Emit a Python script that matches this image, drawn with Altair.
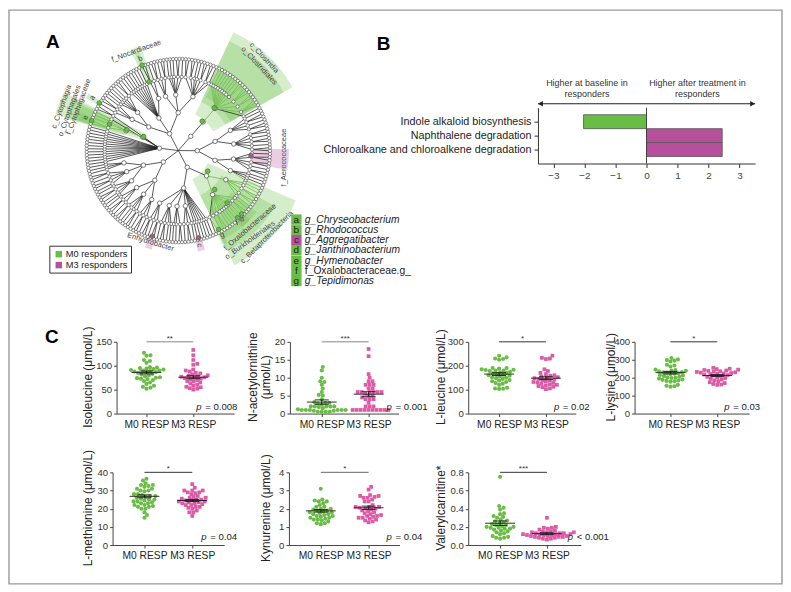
import math
import altair as alt
import pandas as pd

FONT = "Liberation Sans"
GREEN = "#69bd45"
MAGENTA = "#b84f9c"
PINK = "#dc5aa6"
DARK = "#333333"

# ---------- panel C values ----------
iso_m0 = [127,122,121,112,110,106,97,96,95,94,93,92,91,90,90,89,88,87,86,85,83,82,80,78,76,75,74,73,72,70,68,65,62,58,56,54,52]
iso_m3 = [133,122,112,104,102,92,90,88,85,84,82,80,79,78,77,76,75,74,73,72,70,68,67,65,63,60,58,56,55,53,52,50]
nac_m0 = [13,12,10,9,8.8,8,7,6,5.2,5,4,3.2,3,3,2.8,2.5,2,2,2,2,2,1.8,1.5,1.2,1,1,1,1,1,1,0.8,0.8,0.5,0.5,0.5,0.5]
nac_m3 = [18,16,11,10,9,9,8,8,8,7,7,6,6,6,6,6,6,5.5,5,5,4.5,4,4,4,3,2,2,2,1,1,1,1,1,1,1,1,1,1]
leu_m0 = [242,235,230,228,225,190,190,188,185,183,182,180,180,178,175,172,170,168,165,162,160,158,155,152,150,148,145,140,138,135,132,128,125,120,108,105,104,103]
leu_m3 = [242,233,230,228,185,178,170,165,160,158,155,152,150,148,145,143,140,138,135,132,130,128,125,122,120,118,115,112,110,105,102]
lys_m0 = [310,302,298,295,290,272,268,262,245,242,240,238,235,232,230,228,225,222,220,215,212,210,205,202,200,198,195,190,188,185,182,180,178,160,155,152,150]
lys_m3 = [255,250,248,245,243,240,238,236,234,232,230,228,226,224,222,220,218,215,212,210,205,200,198,195,190,185,180,175,170,165,162,160]
met_m0 = [36.5,35.5,34,33,33,32.5,32,31,31,30,30,29.5,28,28,27.5,27,27,26.5,26,25.5,25,25,24.5,24,24,23.5,23,23,22,22,21.5,21,21,20,20,18,16.5,15]
met_m3 = [33.5,31.5,30,30,30,29,29,28.5,28,27,26.5,26,26,25.5,25,25,24.5,24.5,24,24,23.5,23.5,23,23,22.5,22,22,21,21,20.5,20,19,18,18,16]
kyn_m0 = [3.1,2.5,2.45,2.4,2.4,2.3,2.2,2.1,2.1,2.0,2.0,1.95,1.9,1.9,1.85,1.8,1.8,1.75,1.7,1.7,1.65,1.6,1.6,1.55,1.5,1.5,1.45,1.4,1.4,1.35,1.3,1.2,1.2,1.15]
kyn_m3 = [3.2,3.05,2.75,2.7,2.7,2.65,2.6,2.6,2.5,2.4,2.4,2.2,2.1,2.1,2.1,2.05,2.0,2.0,1.95,1.9,1.85,1.8,1.75,1.7,1.65,1.6,1.6,1.55,1.5,1.5,1.45,1.4,1.35,1.3,1.25]
val_m0 = [0.75,0.43,0.41,0.39,0.35,0.34,0.32,0.31,0.3,0.28,0.27,0.26,0.25,0.24,0.23,0.22,0.22,0.21,0.2,0.2,0.19,0.19,0.18,0.18,0.17,0.16,0.15,0.14,0.13,0.12,0.1,0.09,0.08,0.08,0.07]
val_m3 = [0.3,0.2,0.19,0.19,0.18,0.17,0.16,0.15,0.15,0.14,0.14,0.14,0.13,0.13,0.13,0.12,0.12,0.12,0.12,0.11,0.11,0.11,0.1,0.1,0.1,0.09,0.09,0.09,0.08,0.08,0.07,0.07,0.06]

# page x of the column edges of the layout grid
COL_L = {1: 113, 3: 290, 5: 470, 7: 637}
COL_R = {1: 235, 3: 401, 5: 583, 7: 752}

panels = [
    dict(col=1, title="Isoleucine (μmol/L)", m0=iso_m0, m3=iso_m3, ymax=150, ticks=[0,50,100,150], mean=(86,3,76,3), stars="**", p="= 0.008", left=117, right=235, t1=147, t2=194, top=342, h=72, px=197, tx=88, barc="#888888"),
    dict(col=3, title=["N-acetylornithine", "(μmol/L)"], m0=nac_m0, m3=nac_m3, ymax=20, ticks=[0,5,10,15,20], mean=(3.2,0.6,5.4,0.7), stars="***", p="= 0.001", left=291, right=400, t1=323, t2=370, top=342, h=72, px=388, tx=253, barc="#888888"),
    dict(col=5, title="L-leucine  (μmol/L)", m0=leu_m0, m3=leu_m3, ymax=300, ticks=[0,100,200,300], mean=(165,6,148,6), stars="*", p="= 0.02", left=470, right=578, t1=501, t2=548, top=342, h=72, px=556, tx=442, barc=DARK),
    dict(col=7, title="L-lysine (μmol/L)", m0=lys_m0, m3=lys_m3, ymax=400, ticks=[0,100,200,300,400], mean=(228,7,212,5), stars="*", p="= 0.03", left=637, right=752, t1=673, t2=720, top=342, h=72, px=727, tx=613, barc=DARK),
    dict(col=1, title="L-methionine (μmol/L)", m0=met_m0, m3=met_m3, ymax=40, ticks=[0,10,20,30,40], mean=(26.8,0.8,24.5,0.6), stars="*", p="= 0.04", left=113, right=225, t1=145, t2=193, top=473, h=73, px=202, tx=88, barc=DARK),
    dict(col=3, title="Kynurenine (μmol/L)", m0=kyn_m0, m3=kyn_m3, ymax=4, ticks=[0,1,2,3,4], mean=(1.88,0.07,2.05,0.09), stars="*", p="= 0.04", left=290, right=401, t1=322, t2=370, top=473, h=73, px=388, tx=267, barc="#666666"),
    dict(col=5, title="Valerylcarnitine*", m0=val_m0, m3=val_m3, ymax=0.8, ticks=[0,0.2,0.4,0.6,0.8], mean=(0.24,0.025,0.125,0.01), stars="***", p="< 0.001", left=470, right=583, t1=502, t2=549, top=473, h=73, px=570, tx=442, barc=DARK),
]

# ---------- panel B values ----------
pathways = ["Indole alkaloid biosynthesis", "Naphthalene degradation", "Chloroalkane and chloroalkene degradation"]
lda = [-2.03, 2.44, 2.44]
bar_group = ["g", "m", "m"]

# ---------- panel A: taxonomic tree (leaves = genera per family) ----------
tree = (0, [
    (19, [
        (38, [(56, [1, 2, 1]), (56, [1, 1, 1, 1, 2])]),
        (38, [1, 1, 1, 1, 1, 1, 1, 1, (56, [2, 1])]),
        (38, [(56, [2, 1, 2]), (56, [1, 1, 1, 2, 1]), (56, [2, 2, 1, 1, 2, 2, 1])]),
    ]),
    (19, [(38, [(56, [1, 1, 1, 1, 1, 1, 1, 1, 2, 3, 2, 3, 1])])]),
    (19, [
        (38, [(56, [1, 2, 1, 2]), (56, [2, 1, 2, 1, 2])]),
        (38, [(56, [1, 2, 2, 1, 2]), (56, [1, 1, 1, 1])]),
    ]),
    (19, [
        (38, [(56, [1, 1, 2, 2, 1]), (56, [1, 2, 1, 1, 1, 1, 1, 1, 2, 1, 2])]),
        (38, [1, 1, 1, 1, 1, 1, (56, [1, 2, 1]), (56, [2, 1, 1]), (56, [1, 1, 2, 1]), (56, [2, 1, 2])]),
    ]),
    (19, [
        (38, [(56, [1, 2, 1]), (56, [2, 1, 1, 2]), (56, [1, 2, 1])]),
        (38, [(56, [1, 1, 2, 1]), (56, [1, 2, 1, 2]), (56, [1, 1, 1])]),
    ]),
    (19, [1, 1, 1, 1, 1, 1, 1, 1, 1, 1, 1, 1, 1, (38, [(56, [2, 1, 1])]), 1, 2]),
])
LEAF_R = 92
FAM_R = 74
START = 300

# sector: start deg, end deg, inner r, outer r, group
sectors = [
    (25, 61, 40, 131, "g"), (25, 61, 54, 121, "g"), (27, 61, 60, 90, "g"),
    (113, 154, 32, 128, "g"), (120, 154, 50, 112, "g"), (128, 152, 68, 100, "g"),
    (134, 137, 88, 100, "g"), (137, 140, 88, 100, "g"), (152, 155, 88, 105, "g"),
    (334.5, 340, 75, 112, "g"), (336, 338, 93, 107, "g"),
    (286.5, 297, 37, 129, "g"), (286, 296, 56, 119, "g"), (286, 295, 74, 110, "g"), (287, 291, 92, 105, "g"),
    (299.5, 302.5, 92, 107, "g"),
    (89, 100, 73, 111, "m"), (195, 199, 90, 103, "m"), (165, 169, 90, 103, "m"),
]
# highlighted nodes: angle, radius, group
hi_nodes = [
    (39, 38, "g"), (40, 56, "g"), (337, 75, "g"), (337, 93, "g"),
    (292, 37.5, "g"), (292, 55.7, "g"), (291, 74, "g"), (289, 92, "g"), (301, 92.6, "g"),
    (125, 36, "g"), (137, 53.5, "g"), (137, 72, "g"), (138.6, 90, "g"), (135, 90, "g"), (153, 89, "g"),
    (94, 73, "m"), (197, 90, "m"), (167, 90, "m"),
]
# label, page x, page y, rotation, size
tax_labels = [
    ("f_Nocardiaceae", 137, 50, 340, 7.5), ("b", 141, 58, 338, 7),
    ("c_Cytophagia", 62, 106, 290, 7.5), ("o_Cytophagales", 70, 110, 290, 7.5), ("f_Cytophagaceae", 79, 106, 290, 7.5),
    ("a", 93, 97, 300, 7), ("e", 86, 117, 290, 7),
    ("c_Clostridia", 265, 57, 47, 7.5), ("o_Clostridiales", 260, 65, 47, 7.5),
    ("f_Aerococcaceae", 285, 157, 270, 7.5),
    ("Enhydrobacter", 151, 242, 17, 7.5), ("c", 200, 245, 80, 7),
    ("f_Oxalobacteraceae", 251, 227, 319, 7.5), ("o_Burkholderiales", 251, 240, 324, 7.5), ("c_Betaproteobacteria", 268, 237, 315, 7.5),
    ("g", 223, 235, 340, 7), ("d", 243, 219, 340, 7), ("f", 238, 223, 340, 7),
]
key_letters = ["a", "b", "c", "d", "e", "f", "g"]
key_taxa = ["g_Chryseobacterium", "g_Rhodococcus", "g_Aggregatibacter", "g_Janthinobacterium", "g_Hymenobacter", "f_Oxalobacteraceae.g_", "g_Tepidimonas"]
key_groups = ["g", "g", "m", "g", "g", "g", "g"]
key_style = ["italic", "italic", "italic", "italic", "italic", "normal", "italic"]
key_y = [219.3, 230, 240, 250, 260.7, 270.7, 281]

# ---------- geometry helpers ----------
CX, CY = 179, 150
A_W, A_H = 340, 334
A_COL = COL_L[1] - 8
ORX, ORY = CX - 8, CY - 8


def polar(deg, r):
    t = math.radians(deg)
    return r * math.sin(t), -r * math.cos(t)


nodes, edges = [], []
n_leaf = 0


def count(n):
    if isinstance(n, int):
        return n
    return sum(count(c) for c in n[1])


TOTAL = count(tree)
STEP = 360 / TOTAL


def walk(n):
    global n_leaf
    if isinstance(n, int):
        angs = []
        for _ in range(n):
            a = START + (n_leaf + 0.5) * STEP
            n_leaf += 1
            angs.append(a)
            nodes.append((a % 360, LEAF_R, "leaf"))
        fa = sum(angs) / n
        for a in angs:
            edges.append((fa, FAM_R, a, LEAF_R))
        nodes.append((fa % 360, FAM_R, "fam"))
        return fa, FAM_R
    r, kids = n
    pos = [walk(k) for k in kids]
    a = sum(p[0] for p in pos) / len(pos)
    for ca, cr in pos:
        edges.append((a, r, ca, cr))
    if r > 0:
        nodes.append((a % 360, r, "int"))
    return a, r


walk(tree)


def in_hi(a, r0):
    a %= 360
    for s in sectors:
        if s[0] <= a <= s[1] and r0 >= s[2] - 2 and s[3] > 90 and s[2] < 70:
            return s[4]
    return None


edge_rows = []
for a0, r0, a1, r1 in edges:
    x0, y0 = polar(a0, r0)
    x1, y1 = polar(a1, r1)
    hit = in_hi(a1, r0)
    edge_rows.append(dict(x=x0, y=y0, x2=x1, y2=y1, hi=(hit == "g" and r1 > 40), hm=(hit == "m")))
edge_df = pd.DataFrame(edge_rows)
node_df = pd.DataFrame([dict(x=polar(a, r)[0], y=polar(a, r)[1], kind=k) for a, r, k in nodes])
hi_df = pd.DataFrame([dict(x=polar(a, r)[0], y=polar(a, r)[1], g=g) for a, r, g in hi_nodes])
sec_df = pd.DataFrame([dict(t0=math.radians(a), t1=math.radians(b), r0=r0, r1=r1, g=g) for a, b, r0, r1, g in sectors])
lab_df = pd.DataFrame([dict(t=t, x=px - CX, y=py - CY, rot=rot, s=s) for t, px, py, rot, s in tax_labels])

xs = alt.Scale(domain=[-ORX, A_W - ORX], range=[0, A_W], nice=False, zero=False)
ys = alt.Scale(domain=[-ORY, A_H - ORY], range=[0, A_H], nice=False, zero=False)
X = alt.X("x:Q", scale=xs, axis=None)
Y = alt.Y("y:Q", scale=ys, axis=None)
gcolor = alt.Color("g:N", scale=alt.Scale(domain=["g", "m"], range=[GREEN, MAGENTA]), legend=None)

sec_layer = alt.Chart(sec_df).mark_arc(opacity=0.28).encode(
    x=alt.value(ORX), y=alt.value(ORY),
    theta=alt.Theta("t0:Q", scale=None, stack=False), theta2="t1:Q",
    radius=alt.Radius("r1:Q", scale=None), radius2="r0:Q", color=gcolor)
edge_layer = alt.Chart(edge_df[~edge_df.hi & ~edge_df.hm]).mark_rule(strokeWidth=0.75, color="#222222").encode(X, Y, x2="x2:Q", y2="y2:Q")
edge_hi = alt.Chart(edge_df[edge_df.hi]).mark_rule(strokeWidth=0.9, color="#74c052").encode(X, Y, x2="x2:Q", y2="y2:Q")
edge_hm = alt.Chart(edge_df[edge_df.hm]).mark_rule(strokeWidth=0.9, color="#c95aaa").encode(X, Y, x2="x2:Q", y2="y2:Q")
leaf_layer = alt.Chart(node_df[node_df.kind == "leaf"]).mark_circle(size=11, color="white", stroke="#444444", strokeWidth=0.6, opacity=1).encode(X, Y)
fam_layer = alt.Chart(node_df[node_df.kind == "fam"]).mark_circle(size=11, color="white", stroke="#444444", strokeWidth=0.6, opacity=1).encode(X, Y)
int_layer = alt.Chart(node_df[node_df.kind == "int"]).mark_circle(size=20, color="white", stroke="#444444", strokeWidth=0.7, opacity=1).encode(X, Y)
hi_layer = alt.Chart(hi_df).mark_circle(size=22, stroke="#3a6e2a", strokeWidth=0.6, opacity=1).encode(X, Y, color=gcolor)
lab_layer = alt.Chart(lab_df).mark_text(font=FONT, color="#444444", fontSize=7.5).encode(
    X, Y, text="t:N", angle=alt.Angle("rot:Q", scale=None))

# key table and legend, in the same coordinates
key_df = pd.DataFrame(dict(x=[297.5 - CX] * 7, y=[v - CY for v in key_y], l=key_letters, g=key_groups))
key_sw = alt.Chart(key_df).mark_square(size=108, opacity=1).encode(X, Y, color=gcolor)
key_l = alt.Chart(key_df).mark_text(font=FONT, fontSize=10, color="#222222").encode(X, Y, text="l:N")
key_tdf = pd.DataFrame(dict(x=[306 - CX] * 7, y=[v - CY for v in key_y], t=key_taxa, st=key_style))
key_t = alt.Chart(key_tdf[key_tdf.st == "italic"]).mark_text(
    font=FONT, fontSize=10.3, align="left", color="#222222", fontStyle="italic").encode(X, Y, text="t:N")
key_t2 = alt.Chart(key_tdf[key_tdf.st == "normal"]).mark_text(
    font=FONT, fontSize=10.3, align="left", color="#222222").encode(X, Y, text="t:N")

frame = alt.Chart(pd.DataFrame({"s": [0]})).mark_rect(fillOpacity=0, stroke="#999999", strokeWidth=1.4).encode(
    x=alt.value(1), x2=alt.value(777), y=alt.value(1), y2=alt.value(577))
leg_box = alt.Chart(pd.DataFrame({"s": [0]})).mark_rect(fill="white", stroke="#333333", strokeWidth=1).encode(
    x=alt.value(42), x2=alt.value(124), y=alt.value(238), y2=alt.value(265))
leg_df = pd.DataFrame(dict(x=[59 - CX] * 2, y=[254 - CY, 265 - CY], g=["g", "m"], t=["M0 responders", "M3 responders"], tx=[66 - CX] * 2))
leg_sw = alt.Chart(leg_df).mark_square(size=42, opacity=1).encode(X, Y, color=gcolor)
leg_t = alt.Chart(leg_df).mark_text(font=FONT, fontSize=9.3, align="left", color="#222222").encode(
    x=alt.X("tx:Q", scale=xs, axis=None), y=Y, text="t:N")

letters = pd.DataFrame(dict(t=["A", "B", "C"], x=[53 - CX, 385 - CX, 52 - CX], y=[41 - CY, 43 - CY, 337 - CY]))
let_layer = alt.Chart(letters).mark_text(font=FONT, fontSize=19, fontWeight="bold", color="black").encode(X, Y, text="t:N")

panel_a = alt.layer(frame, sec_layer, edge_layer, edge_hi, edge_hm, leaf_layer, fam_layer, int_layer, hi_layer,
                    lab_layer, key_sw, key_l, key_t, key_t2, leg_box, leg_sw, leg_t, let_layer).properties(width=A_COL, height=A_H)

# ---------- panel B ----------
B_LEFT, B_RIGHT, B_TOP, B_BOT = 540, 758, 107, 163
B_OFF = B_LEFT - COL_L[5]
bdf = pd.DataFrame(dict(p=pathways, v=lda, z=[0, 0, 0], g=bar_group))
bx = alt.Scale(domain=[-3.5, 3.5], range=[B_OFF, B_OFF + B_RIGHT - B_LEFT], nice=False, zero=False)
by = alt.Scale(domain=pathways, range=[B_TOP - 8, B_BOT - 8], paddingOuter=0.5, paddingInner=0)
b_xax = alt.Axis(values=[-3, -2, -1, 0, 1, 2, 3], title=None, labelOverlap=False, grid=False, labelFont=FONT, labelFontSize=10, labelColor="#444444", domainColor="#333333", tickColor="#333333", tickSize=4, labelPadding=3)
bars = alt.Chart(bdf).mark_bar(stroke="#555555", strokeWidth=0.8, opacity=1).encode(
    x=alt.X("v:Q", scale=bx, axis=b_xax),
    x2="z:Q",
    y=alt.Y("p:N", scale=by, sort=pathways, title=None, axis=alt.Axis(offset=-B_OFF, grid=False, labelFont=FONT, labelFontSize=10.8, labelColor="#222222", labelLimit=300, domainColor="#333333", tickColor="#333333", tickSize=4, labelPadding=3)),
    color=gcolor)
BX0 = alt.X("z:Q", scale=bx, axis=b_xax)
BXA = alt.X("a:Q", scale=bx, axis=b_xax)
zero = alt.Chart(pd.DataFrame({"z": [0]})).mark_rule(color="#444444", strokeWidth=1).encode(
    x=BX0, y=alt.value(B_TOP - 8), y2=alt.value(B_BOT - 8))
arrow_y = 95
arrow = alt.Chart(pd.DataFrame(dict(a=[-3.5], b=[3.5]))).mark_rule(color="#222222", strokeWidth=1.2).encode(
    x=BXA, x2="b:Q", y=alt.value(arrow_y))
head_l = alt.Chart(pd.DataFrame(dict(a=[-3.42]))).mark_point(shape="triangle-left", size=32, filled=True, color="#222222", opacity=1).encode(x=BXA, y=alt.value(arrow_y))
head_r = alt.Chart(pd.DataFrame(dict(a=[3.42]))).mark_point(shape="triangle-right", size=32, filled=True, color="#222222", opacity=1).encode(x=BXA, y=alt.value(arrow_y))
btxt = pd.DataFrame(dict(t=["Higher at baseline in", "responders", "Higher after treatment in", "responders"],
                         a=[-1.92, -1.92, 1.64, 1.64], line=[0, 1, 0, 1]))
b_text0 = alt.Chart(btxt[btxt.line == 0]).mark_text(font=FONT, fontSize=9, color="#333333").encode(x=BXA, y=alt.value(74), text="t:N")
b_text1 = alt.Chart(btxt[btxt.line == 1]).mark_text(font=FONT, fontSize=9, color="#333333").encode(x=BXA, y=alt.value(85), text="t:N")
panel_b = alt.layer(bars, zero, arrow, head_l, head_r, b_text0, b_text1).properties(width=COL_R[5] - COL_L[5], height=B_BOT - 8)


# ---------- panel C ----------
def swarm(values, group, unit, pxy):
    placed, rows = [], []
    for v in sorted(values):
        py = v * pxy
        best = None
        for k in range(0, 120):
            for off in ((k * 0.5), -(k * 0.5)):
                if all((off - ox) ** 2 + (py - oy) ** 2 >= 3.7 ** 2 for ox, oy in placed):
                    best = off
                    break
            if best is not None:
                break
        placed.append((best, py))
        rows.append(dict(x=group + best / unit, y=v))
    return pd.DataFrame(rows)


def make_panel(p):
    L = COL_L[p["col"]]
    w = COL_R[p["col"]] - L
    a, b = p["left"] - L, p["right"] - L
    unit = p["t2"] - p["t1"]
    h = p["h"]
    dom = [1 - (p["t1"] - p["left"]) / unit, 1 + (p["right"] - p["t1"]) / unit]
    sx = alt.Scale(domain=dom, range=[a, b], nice=False, zero=False)
    sy = alt.Scale(domain=[0, p["ymax"]], nice=False, zero=False)
    pxy = h / p["ymax"]
    xax = alt.Axis(values=[1, 2], labelExpr="datum.value == 1 ? 'M0 RESP' : 'M3 RESP'", grid=False, labelFont=FONT, labelFontSize=10.3,
                   labelColor="#222222", domainColor="#444444", tickColor="#444444", tickSize=3, labelPadding=3, title=None, labelOverlap=False)
    fmt = ".1f" if p["ymax"] < 1 else "d"
    yax = alt.Axis(values=p["ticks"], format=fmt, offset=-a, labelOverlap=False, grid=False, labelFont=FONT, labelFontSize=9.6, labelColor="#333333", domainColor="#444444",
                   tickColor="#444444", tickSize=3, labelPadding=2, title=p["title"], titleFont=FONT, titleFontSize=12, titleFontWeight="normal",
                   titleColor="#222222", titleX=p["tx"] - p["left"], titleY=h / 2 - 1, titleBaseline="middle", titleAnchor="middle")
    PX = alt.X("x:Q", scale=sx, axis=xax)
    PY = alt.Y("y:Q", scale=sy, axis=yax)
    d0, d3 = swarm(p["m0"], 1, unit, pxy), swarm(p["m3"], 2, unit, pxy)
    pts0 = alt.Chart(d0).mark_circle(size=17, color=GREEN, opacity=1).encode(x=PX, y=PY)
    pts3 = alt.Chart(d3).mark_square(size=14, color=PINK, opacity=1).encode(x=PX, y=PY)
    XA = alt.X("a:Q", scale=sx, axis=xax)
    m0, s0, m3, s3 = p["mean"]
    rows = []
    for g, m, s in ((1, m0, s0), (2, m3, s3)):
        rows.append(dict(a=g - 15 / unit, b=g + 15 / unit, u=m, v=m))
        rows.append(dict(a=g - 7 / unit, b=g + 7 / unit, u=m + s, v=m + s))
        rows.append(dict(a=g - 7 / unit, b=g + 7 / unit, u=m - s, v=m - s))
        rows.append(dict(a=g, b=g, u=m - s, v=m + s))
    stat = alt.Chart(pd.DataFrame(rows)).mark_rule(color="#1a1a1a", strokeWidth=0.9).encode(
        x=XA, x2="b:Q", y=alt.Y("u:Q", scale=sy, axis=yax), y2="v:Q")
    bar = alt.Chart(pd.DataFrame(dict(a=[1], b=[2]))).mark_rule(color=p["barc"], strokeWidth=1).encode(
        x=XA, x2="b:Q", y=alt.value(0))
    star = alt.Chart(pd.DataFrame(dict(a=[1.5], t=[p["stars"]]))).mark_text(font=FONT, fontSize=8, color="#333333").encode(
        x=XA, y=alt.value(-3), text="t:N")
    yt = h - 7 if p["top"] < 400 else h - 8
    pi = alt.Chart(pd.DataFrame(dict(t=["p"]))).mark_text(font=FONT, fontSize=9.6, fontStyle="italic", align="left", color="#222222").encode(
        x=alt.value(p["px"] - L), y=alt.value(yt), text="t:N")
    pv = alt.Chart(pd.DataFrame(dict(t=[p["p"]]))).mark_text(font=FONT, fontSize=9.6, align="left", color="#222222").encode(
        x=alt.value(p["px"] - L + 9), y=alt.value(yt), text="t:N")
    return alt.layer(pts0, pts3, stat, bar, star, pi, pv).properties(width=w, height=h)


def spacer(w, h=1):
    return alt.Chart(pd.DataFrame({"s": [0]})).mark_point(opacity=0, size=1).encode(x=alt.value(5), y=alt.value(5)).properties(width=w, height=h)


W = [COL_L[1] - 8, COL_R[1] - COL_L[1], COL_L[3] - COL_R[1], COL_R[3] - COL_L[3],
     COL_L[5] - COL_R[3], COL_R[5] - COL_L[5], COL_L[7] - COL_R[5], COL_R[7] - COL_L[7]]
C = [make_panel(p) for p in panels]
cells = [
    panel_a, spacer(W[1]), spacer(W[2]), spacer(W[3]), spacer(W[4]), panel_b, spacer(W[6]), spacer(W[7]),
    spacer(W[0], 131), C[0], spacer(W[2]), C[1], spacer(W[4]), C[2], spacer(W[6]), C[3],
    spacer(W[0]), C[4], spacer(W[2]), C[5], spacer(W[4]), C[6], spacer(W[6]), spacer(W[7]),
]
chart = alt.concat(*cells, columns=8, spacing=0, bounds="flush").resolve_scale(
    x="independent", y="independent", color="independent").properties(padding=0, background="white").configure_view(stroke=None).configure_axis(labelOverlap=False, labelBound=False, labelFlush=False)
chart.save("out.html", embed_options={"renderer": "svg", "actions": False})
